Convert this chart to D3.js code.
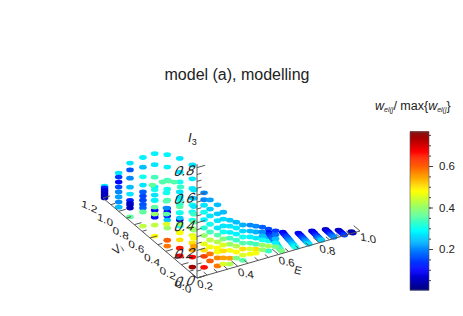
<!DOCTYPE html>
<html><head><meta charset="utf-8"><style>html,body{margin:0;background:#fff}svg{display:block}text{font-family:"Liberation Sans",Arial,sans-serif;fill:#222}</style>
<script src="https://cdn.jsdelivr.net/npm/d3@7"></script></head><body><script>
const title="model (a), modelling";
const eTickLabels=[0.2,0.4,0.6,0.8,1.0];
const vTickLabels=[0,0.2,0.4,0.6,0.8,1.0,1.2];
const iTickLabels=[0,0.2,0.4,0.6,0.8];
const barTicks=[0.2,0.4,0.6];
const stackE=[.2,.2,.2,.2,.2,.2,.2,.2,.254,.32,.38,.444,.508,.57,.62,.69,.755,.818,.877,.925,.965,.3,.3,.3,.3,.3,
 .283,.348,.412,.48,.54,.605,.3,.3,.3,.3];
const stackV=[
[1.18],[1.0],[.855],[.69],[.54],[.38],[.22],[.06],[.05],[.05],[.05],[.05],[.05],[.05],
[.18,.165,.15,.135,.12,.105,.09,.075,.06,.045,.03,.015],
[.18,.165,.15,.135,.12,.105,.09,.075,.06,.045,.03,.015],
[.15,.135,.12,.105,.09,.075,.06,.045,.03,.015],
[.14,.125,.11,.095,.08,.065,.05,.035,.02],
[.12,.105,.09,.075,.06,.045,.03,.015],
[.08,.065,.05,.035,.02,.005],
[.02,.01,0],
[.55],[.62],[.7],[.83],[.47],
[.05],[.05],[.05],[.05],[.05],[.05],[.3],[.48],[.65],[.8]];
const stackI=[
[.096,.082,.067,.053,.038,.024,.01],
[.277,.248,.212,.176,.14,.104,.067,.03],
[.42,.37,.31,.245,.195,.15,.13,.116,.094,.03],
[.54,.47,.40,.34,.29,.26,.23,.2,.174,.145,.043],
[.64,.56,.47,.40,.34,.30,.23,.2,.18,.123,.043],
[.71,.62,.526,.46,.38,.32,.295,.265,.236,.178,.09,.048],
[.76,.66,.59,.517,.46,.41,.365,.314,.27,.22,.17,.11,.053],
[.79,.69,.62,.55,.5,.45,.39,.33,.28,.225,.174,.123,.05],
[.57,.52,.48,.43,.375,.315,.26,.2,.155,.11,.03],
[.455,.39,.34,.287,.236,.186,.142,.113,.07,.012],
[.318,.275,.23,.188,.144,.1,.043,0],
[.256,.212,.169,.125,.082,.038,0],
[.22,.178,.134,.09,.054,.025],
[.173,.144,.115,.086,.05,.014],
[.065,.06,.055,.05,.045,.04,.035,.03,.025,.02,.015,.01],
[.036,.033,.03,.027,.025,.022,.02,.017,.014,.011,.008,.005],
[.017,.015,.014,.012,.01,.009,.007,.005,.004,.002],
[.01,.009,.008,.006,.005,.004,.003,.002,.001],
[.006,.005,.004,.004,.003,.002,.001,0],
[0,0,0,0,0,0],[0,0,0],
[.387],[.36],[.315],[.23],[.39],
[.506,.44,.39,.33,.274,.216,.165,.115,.064],
[.39,.34,.29,.246,.196,.152,.109,.058,.014],
[.29,.248,.204,.16,.117,.074,.03],
[.24,.197,.154,.11,.067,.03],
[.2,.165,.136,.107,.07,.035],
[.145,.116,.087,.058,.03],
[.45,.39,.33,.275,.217,.16,.1,.043],
[.31,.26,.2,.16,.116,.058],
[.26,.2,.15,.107,.034],
[.21,.135,.085,.034]];
const stackW=[
[.27,.12,.08,.06,.05,.05,.05],
[.27,.14,.1,.15,.2,.22,.2,.24],
[.27,.16,.2,.24,.27,.12,.07,.05,.05,.36],
[.28,.24,.3,.27,.17,.15,.15,.16,.17,.36,.43],
[.28,.27,.34,.28,.27,.3,.1,.06,.1,.43,.48],
[.28,.28,.33,.3,.34,.16,.1,.12,.25,.4,.6,.58],
[.27,.27,.3,.27,.3,.36,.3,.06,.3,.48,.5,.65,.68],
[.27,.27,.27,.27,.3,.3,.3,.4,.46,.5,.55,.67,.74],
[.2,.2,.27,.3,.28,.32,.4,.46,.5,.62,.66],
[.24,.25,.27,.27,.35,.42,.48,.47,.57,.58],
[.25,.27,.28,.33,.4,.47,.55,.42],
[.23,.26,.3,.35,.5,.45,.35],
[.2,.23,.27,.34,.5,.47],
[.15,.2,.24,.3,.42,.33],
[.1,.12,.14,.16,.18,.2,.22,.24,.27,.3,.33,.38],
[.09,.1,.12,.14,.16,.18,.2,.22,.24,.26,.28,.3],
[.08,.09,.11,.13,.15,.17,.2,.22,.25,.27],
[.07,.08,.1,.12,.14,.16,.19,.22,.25],
[.05,.07,.09,.11,.13,.16,.18,.2],
[.05,.06,.08,.1,.12,.14],
[.03,.04,.05],
[.35],[.35],[.35],[.36],[.33],
[.22,.25,.27,.3,.34,.43,.47,.58,.6],
[.24,.26,.27,.3,.38,.45,.5,.55,.45],
[.24,.27,.28,.33,.42,.48,.38],
[.2,.24,.28,.34,.45,.47],
[.17,.2,.24,.3,.4,.4],
[.14,.18,.24,.28,.38],
[.27,.25,.27,.33,.36,.4,.47,.55],
[.27,.33,.3,.25,.4,.47],
[.3,.35,.2,.36,.45],
[.3,.28,.36,.4]];
const jet=["#00007f","#0000ff","#007fff","#00ffff","#7fff7f","#ffff00","#ff7f00","#ff0000","#7f0000"];

const W=463,H=316,ox=197,oy=278;
const svg=d3.select("body").append("svg").attr("width",W).attr("height",H);
const color=d3.scaleLinear().domain(d3.range(jet.length).map(i=>0.0025+i*(0.764-0.0025)/(jet.length-1))).range(jet);
const eX=d3.scaleLinear([.2,1],[0,163]),eY=d3.scaleLinear([.2,1],[0,-47]);
const vX=d3.scaleLinear([0,1.2],[0,-94]),vY=d3.scaleLinear([0,1.2],[0,-80]);
const iY=d3.scaleLinear([0,.8],[0,-110.4]);
const px=(e,v)=>ox+eX(e)+vX(v),py=(e,v,i)=>oy+eY(e)+vY(v)+iY(i);

svg.append("text").attr("x",237).attr("y",80).attr("text-anchor","middle").attr("font-size",16).attr("fill","#111").text(title);

const pts=[];
stackE.forEach((e,k)=>{
  const vs=stackV[k],is=stackI[k],ws=stackW[k];
  is.forEach((i,j)=>pts.push({e,v:vs.length>1?vs[j]:vs[0],i,w:ws[j]}));
});
svg.append("g").selectAll("ellipse").data(pts).join("ellipse")
 .attr("cx",d=>px(d.e,d.v)).attr("cy",d=>py(d.e,d.v,d.i)).attr("rx",3.8).attr("ry",2.4).attr("fill",d=>color(d.w));

const ax=svg.append("g").attr("stroke","#555").attr("fill","none").attr("stroke-width",1);
const seg=(a,b,c,d)=>ax.append("line").attr("x1",a).attr("y1",b).attr("x2",c).attr("y2",d);
seg(px(.2,0),py(.2,0,0),px(1,0),py(1,0,0));
seg(px(.2,0),py(.2,0,0),px(.2,1.2),py(.2,1.2,0));
seg(px(.2,0),py(.2,0,0),px(.2,0),py(.2,0,.826));
d3.range(.2,1.001,.05).forEach((e,n)=>{const L=n%4==0?.08:.045;seg(px(e,0),py(e,0,0),px(e,L),py(e,L,0));});
d3.range(0,1.201,.1).forEach((v,n)=>{const L=n%2==0?.035:.022;seg(px(.2,v),py(.2,v,0),px(.2+L,v),py(.2+L,v,0));});
d3.range(0,.826,.05).forEach((i,n)=>{const L=n%4==0?.04:.022;seg(px(.2,0),py(.2,0,i),px(.2+L,0),py(.2+L,0,i));});

const lab=(x,y,t,m,fs,it)=>svg.append("text").attr("transform",`translate(${x},${y}) matrix(${m.join(",")},0,0)`).attr("text-anchor","middle").attr("font-size",fs).attr("font-style",it?"italic":"normal").text(t);
eTickLabels.forEach(e=>lab(px(e,0)+8.5,py(e,0,0)+11,e.toFixed(1),[1.05,.22,.1,1],11));
vTickLabels.forEach(v=>lab(px(.2,v)-14,py(.2,v,0)+12,v.toFixed(1),[1.05,.5,-.1,.9],11));
iTickLabels.forEach(i=>lab(183,py(.2,0,i)+8,i.toFixed(1),[1.1,-.08,-.45,1.1],13));
const i3=svg.append("text").attr("x",188).attr("y",142).attr("font-size",13).attr("font-style","italic").text("I");
i3.append("tspan").attr("font-size",9).attr("dy",3).attr("font-style","normal").text("3");
const vl=svg.append("text").attr("transform","translate(120,252) rotate(-45)").attr("font-size",12).attr("font-style","italic").attr("text-anchor","middle").text("V");
vl.append("tspan").attr("font-size",8).attr("dy",2).text("i");
svg.append("text").attr("transform","translate(297,274) rotate(14)").attr("font-size",11).attr("text-anchor","middle").text("E");

// colour bar
const bar=d3.scaleLinear([0.0025,0.764],[290,132]);
const g=svg.append("g");
g.selectAll("rect").data(d3.range(0.0025,0.764,0.005)).join("rect").attr("x",410).attr("width",19)
 .attr("y",d=>bar(d+0.005)).attr("height",d=>bar(d)-bar(d+0.005)+.5).attr("fill",d=>color(d));
const a1=svg.append("g").attr("transform","translate(429,0)").call(d3.axisRight(bar).tickValues(barTicks).tickSize(4).tickPadding(6).tickFormat(d3.format(".1f")));
a1.select(".domain").remove();a1.selectAll("text").attr("font-size",11.5).attr("font-family",'"Liberation Sans"').attr("fill","#222");
a1.selectAll("line").attr("stroke","#444");
const a2=svg.append("g").attr("transform","translate(429,0)").call(d3.axisRight(bar).tickValues(d3.range(.05,.76,.05)).tickSize(2).tickFormat(""));
a2.select(".domain").remove();a2.selectAll("line").attr("stroke","#444");
svg.append("rect").attr("x",410).attr("y",132).attr("width",19).attr("height",158).attr("fill","none").attr("stroke","#555").attr("stroke-width",.6);
const t=svg.append("text").attr("x",375).attr("y",110).attr("font-size",12.5);
t.append("tspan").attr("font-style","italic").text("w");
t.append("tspan").attr("font-style","italic").attr("font-size",7).attr("dy",2).text("el(j");
t.append("tspan").attr("dy",-2).text("/ max{");
t.append("tspan").attr("font-style","italic").text("w");
t.append("tspan").attr("font-style","italic").attr("font-size",7).attr("dy",2).text("el(j");
t.append("tspan").attr("dy",-2).text("}");
</script></body></html>
